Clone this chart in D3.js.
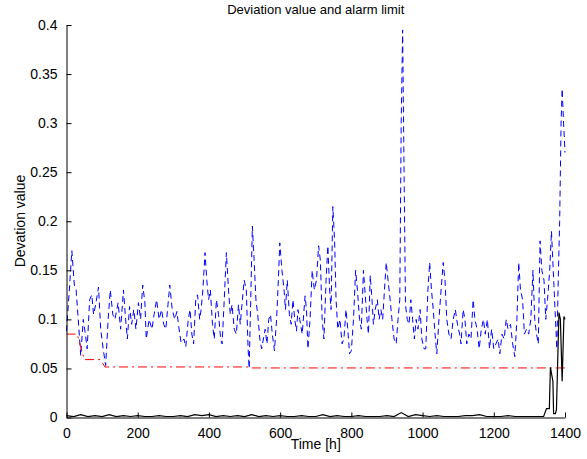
<!DOCTYPE html>
<html lang="en">
<head>
    <meta charset="UTF-8">
    <script src="https://cdn.jsdelivr.net/npm/d3@7"></script>
    <title>Deviation value and alarm limit</title>
    <style>
        * { margin: 0; padding: 0; box-sizing: border-box; }
        body { background: white; }
        svg text { font-family: "Liberation Sans", Arial, sans-serif; fill: black; }
    </style>
</head>
<body>
    <svg width="587" height="459"></svg>
    <script>
        // deviation value (blue dashed)
        let blueHours = [0, 8, 15, 22, 27, 33, 40, 47, 53, 58, 65, 71, 76, 82, 90, 96, 103, 110, 117, 123,
            130, 136, 145, 152, 160, 166, 171, 177, 183, 189, 195, 202, 208, 214, 220, 224, 232, 240, 246, 253,
            260, 267, 273, 279, 285, 290, 297, 304, 310, 318, 322, 330, 335, 342, 347, 352, 357, 363, 368, 374,
            378, 383, 389, 394, 399, 404, 410, 415, 421, 427, 433, 437, 443, 449, 455, 460, 465, 471, 477, 483,
            488, 494, 499, 505, 510, 513, 518, 522, 527, 532, 537, 543, 548, 553, 558, 563, 568, 573, 578, 584,
            590, 595, 599, 605, 611, 615, 620, 626, 631, 636, 641, 646, 650,
            655, 662, 670, 674, 678, 684, 690, 696, 702, 708, 713, 718, 723, 729, 734, 739, 743, 748, 753, 757,
            762, 768, 774, 779, 785, 790, 795, 800, 806, 812, 817, 823, 828, 834, 838, 844, 848, 853, 858, 862,
            867, 873, 878, 883, 888, 893, 898, 903, 909, 914, 920, 926, 931, 936, 940, 944, 948, 952, 957, 962,
            967, 972, 977, 982, 987, 993, 998, 1004, 1009, 1015, 1020, 1025, 1030, 1035, 1040, 1046, 1052, 1058, 1063, 1068,
            1074, 1080, 1086, 1092, 1098, 1104, 1108, 1114, 1119, 1124, 1130, 1136, 1142, 1147, 1153, 1159, 1165, 1171, 1176, 1182,
            1188, 1194, 1200, 1206, 1212, 1217, 1223, 1229, 1235, 1240, 1247, 1253, 1259, 1265, 1270, 1275, 1281, 1286, 1292, 1298,
            1304, 1310, 1315, 1320, 1325, 1330, 1335, 1341, 1346, 1351, 1357, 1362, 1367, 1372, 1377, 1381, 1385, 1389, 1392, 1396, 1400]
        let blueValues = [0.088, 0.13, 0.17, 0.135, 0.13, 0.1, 0.063, 0.1, 0.085, 0.07, 0.12, 0.125, 0.105, 0.115, 0.133, 0.09, 0.07, 0.053, 0.1, 0.13,
            0.105, 0.1, 0.117, 0.09, 0.13, 0.1, 0.08, 0.113, 0.095, 0.11, 0.09, 0.117, 0.1, 0.135, 0.118, 0.08, 0.1, 0.09, 0.105, 0.12,
            0.1, 0.11, 0.095, 0.09, 0.115, 0.135, 0.11, 0.1, 0.108, 0.085, 0.076, 0.08, 0.072, 0.1, 0.11, 0.085, 0.075, 0.12, 0.125, 0.1,
            0.11, 0.13, 0.168, 0.14, 0.12, 0.13, 0.095, 0.08, 0.12, 0.105, 0.08, 0.075, 0.12, 0.168, 0.13, 0.105, 0.115, 0.09, 0.085, 0.115,
            0.095, 0.12, 0.14, 0.13, 0.07, 0.05, 0.13, 0.195, 0.16, 0.12, 0.105, 0.08, 0.07, 0.08, 0.09, 0.075, 0.1, 0.105, 0.085, 0.068,
            0.1, 0.14, 0.178, 0.15, 0.13, 0.11, 0.14, 0.105, 0.095, 0.12, 0.1, 0.088, 0.11,
            0.1, 0.085, 0.124, 0.11, 0.07, 0.1, 0.15, 0.13, 0.14, 0.175, 0.16, 0.1, 0.08, 0.14, 0.175, 0.13, 0.11, 0.215, 0.18, 0.12,
            0.09, 0.1, 0.075, 0.08, 0.11, 0.09, 0.065, 0.068, 0.1, 0.15, 0.13, 0.1, 0.09, 0.15, 0.13, 0.1, 0.085, 0.145, 0.12, 0.095,
            0.11, 0.12, 0.1, 0.11, 0.1, 0.13, 0.158, 0.14, 0.12, 0.1, 0.08, 0.075, 0.1, 0.12, 0.3, 0.395, 0.25, 0.115, 0.1, 0.095,
            0.12, 0.1, 0.08, 0.1, 0.09, 0.11, 0.08, 0.07, 0.07, 0.13, 0.158, 0.13, 0.11, 0.085, 0.065, 0.1, 0.13, 0.158, 0.14, 0.1,
            0.085, 0.08, 0.1, 0.11, 0.095, 0.085, 0.075, 0.11, 0.1, 0.075, 0.085, 0.08, 0.12, 0.1, 0.09, 0.07, 0.09, 0.1, 0.085, 0.1,
            0.07, 0.09, 0.07, 0.075, 0.08, 0.065, 0.085, 0.08, 0.1, 0.09, 0.095, 0.075, 0.062, 0.1, 0.158, 0.13, 0.12, 0.085, 0.09, 0.085,
            0.1, 0.15, 0.1, 0.085, 0.075, 0.18, 0.15, 0.14, 0.1, 0.12, 0.15, 0.19, 0.15, 0.11, 0.07, 0.14, 0.2, 0.3, 0.335, 0.3, 0.27]

        // alarm limit (red dash-dot)
        let limitHours = [0, 30, 50, 95, 108, 510, 515, 1400]
        let limitValues = [0.085, 0.085, 0.059, 0.059, 0.0515, 0.0515, 0.0505, 0.0505]

        // black solid line
        let blackHours = [0, 20, 40, 60, 80, 100, 120, 140, 160, 180, 200, 220, 240, 260, 280, 300, 320, 340, 360, 380,
            400, 420, 440, 460, 480, 500, 520, 540, 560, 580, 600, 620, 640, 660, 680, 700, 720, 740, 760, 780,
            800, 820, 840, 860, 880, 900, 920, 940, 960, 980, 1000, 1020, 1040, 1060, 1080, 1100, 1120, 1140, 1160, 1180,
            1200, 1220, 1240, 1260, 1280, 1300, 1320, 1340, 1348, 1356, 1359, 1366, 1368, 1373, 1376, 1383, 1387, 1392, 1397, 1400]
        let blackValues = [0.002, 0.001, 0.003, 0.001, 0.002, 0.001, 0.003, 0.001, 0.002, 0.001, 0.002, 0.001, 0.001, 0.002, 0.001, 0.001, 0.002, 0.001, 0.003, 0.002,
            0.003, 0.001, 0.002, 0.001, 0.002, 0.001, 0.003, 0.001, 0.002, 0.001, 0.002, 0.001, 0.001, 0.002, 0.001, 0.001, 0.003, 0.001, 0.002, 0.001,
            0.001, 0.002, 0.001, 0.001, 0.001, 0.002, 0.001, 0.005, 0.001, 0.003, 0.002, 0.001, 0.002, 0.001, 0.001, 0.001, 0.002, 0.002, 0.003, 0.001,
            0.001, 0.001, 0.002, 0.001, 0.001, 0.001, 0.001, 0.001, 0.009, 0.009, 0.051, 0.037, 0.004, 0.004, 0.008, 0.107, 0.1, 0.037, 0.103, 0.1]

        let xTicks = [0, 200, 400, 600, 800, 1000, 1200, 1400]
        let yTicks = [0, 0.05, 0.1, 0.15, 0.2, 0.25, 0.3, 0.35, 0.4]

        let svg = d3.select('svg')

        let xScale = d3.scaleLinear()
            .domain([0, 1400])
            .range([66.5, 565])

        let yScale = d3.scaleLinear()
            .domain([0, 0.4])
            .range([417.5, 25])

        let toPoints = (hs, vs) => hs.map((h, i) => [h, vs[i]])

        let line = d3.line()
            .x(d => xScale(d[0]))
            .y(d => yScale(d[1]))

        svg.append('path')
            .attr('d', line(toPoints(blueHours, blueValues)))
            .attr('fill', 'none')
            .attr('stroke', '#0000ff')
            .attr('stroke-width', 1)
            .attr('stroke-dasharray', '6,4')

        svg.append('path')
            .attr('d', line(toPoints(limitHours, limitValues)))
            .attr('fill', 'none')
            .attr('stroke', '#ff0000')
            .attr('stroke-width', 1)
            .attr('stroke-dasharray', '9,4,2,4')

        svg.append('path')
            .attr('d', line(toPoints(blackHours, blackValues)))
            .attr('fill', 'none')
            .attr('stroke', '#000000')
            .attr('stroke-width', 1.2)

        let xAxis = d3.axisBottom(xScale)
            .tickValues(xTicks)
            .tickSizeInner(-5)
            .tickSizeOuter(0)
            .tickPadding(11)
            .tickFormat(d3.format('d'))

        let yAxis = d3.axisLeft(yScale)
            .tickValues(yTicks)
            .tickSizeInner(-5)
            .tickSizeOuter(0)
            .tickPadding(9)
            .tickFormat(d => String(d))

        svg.append('g')
            .attr('transform', 'translate(0, 417.5)')
            .call(xAxis)

        svg.append('g')
            .attr('transform', 'translate(66.5, 0)')
            .call(yAxis)

        svg.selectAll('.tick text')
            .attr('font-size', 14)
            .attr('font-family', '"Liberation Sans", Arial, sans-serif')

        svg.selectAll('.domain, .tick line').attr('stroke', 'black')

        svg.append('text')
            .attr('x', 315.75)
            .attr('y', 14)
            .attr('text-anchor', 'middle')
            .attr('font-size', 13)
            .text('Deviation value and alarm limit')

        svg.append('text')
            .attr('x', 315.75)
            .attr('y', 449)
            .attr('text-anchor', 'middle')
            .attr('font-size', 14)
            .text('Time [h]')

        svg.append('text')
            .attr('transform', 'translate(25, 221) rotate(-90)')
            .attr('text-anchor', 'middle')
            .attr('font-size', 14)
            .text('Devation value')
    </script>
</body>
</html>
